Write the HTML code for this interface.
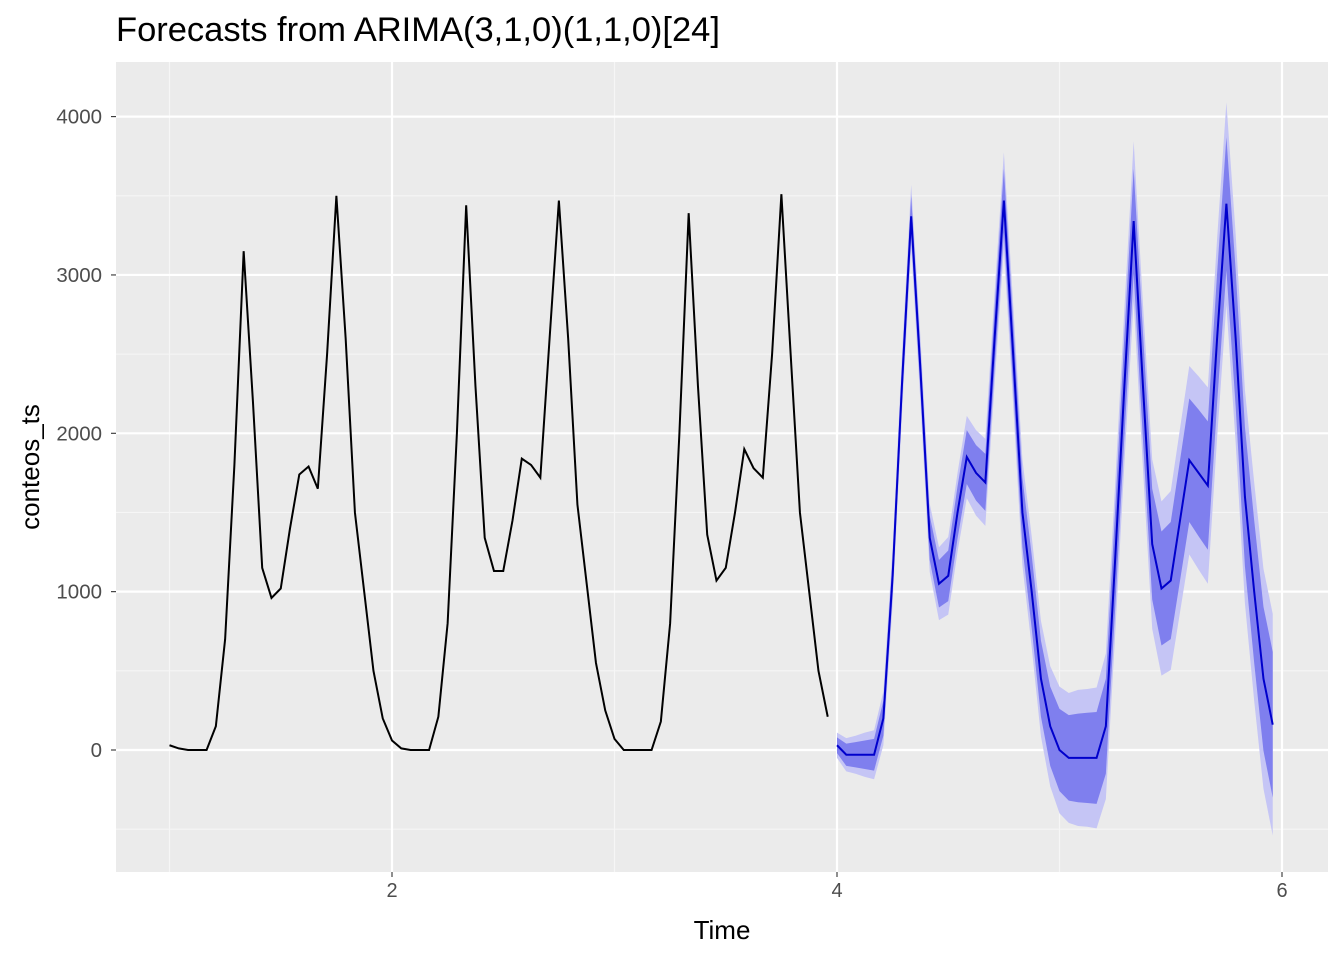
<!DOCTYPE html>
<html><head><meta charset="utf-8"><style>
html,body{margin:0;padding:0;background:#fff;}
svg{display:block;font-family:"Liberation Sans",Arial,sans-serif;}
</style></head><body>
<svg id="chart" width="1344" height="960" viewBox="0 0 1344 960" xmlns="http://www.w3.org/2000/svg">
<rect width="1344" height="960" fill="#ffffff"/>
<text x="116" y="41" font-size="34.5" fill="#000">Forecasts from ARIMA(3,1,0)(1,1,0)[24]</text>
<rect x="116" y="62" width="1212" height="810" fill="#ebebeb"/>
<g id="grid"></g>
<g id="marks"></g>
<g id="axes"></g>
<text x="722" y="939" font-size="26" text-anchor="middle" fill="#000">Time</text>
<text transform="translate(39,467) rotate(-90)" font-size="26" text-anchor="middle" fill="#000">conteos_ts</text>
</svg>
<script>
const freq = 24;
const startTime = 1;
const history = [30,10,0,0,0,150,700,1800,3150,2200,1150,960,1020,1400,1740,1790,1650,2500,3500,2600,1500,1000,500,200,
 60,10,0,0,0,210,800,2000,3440,2300,1340,1130,1130,1450,1840,1800,1720,2600,3470,2600,1550,1050,550,250,
 70,0,0,0,0,180,800,2000,3390,2300,1360,1070,1150,1500,1900,1780,1720,2500,3510,2500,1500,1000,500,210];
const forecastMean = [30,-30,-30,-30,-30,200,1100,2300,3370,2400,1340,1050,1100,1500,1850,1750,1690,2600,3470,2500,1500,1000,450,150,
 0,-50,-50,-50,-50,150,1200,2300,3340,2300,1300,1020,1070,1450,1830,1750,1670,2600,3450,2600,1600,1000,450,160];
const width80 = [50,70,80,90,100,110,120,125,130,135,140,150,160,165,170,175,180,190,200,210,220,230,240,250,260,270,280,285,290,300,310,320,330,340,350,360,370,380,390,400,405,410,420,430,440,450,455,460];
const width95 = [80,105,120,140,155,170,180,190,200,205,215,230,245,250,260,270,275,290,305,320,335,350,365,380,400,410,430,435,445,460,475,490,505,520,535,550,565,580,595,610,620,630,640,660,675,690,695,700];
const xTicks = [2,4,6];
const xMinor = [1,3,5];
const yTicks = [0,1000,2000,3000,4000];
const yMinor = [-500,500,1500,2500,3500];

const NS = "http://www.w3.org/2000/svg";
const X = t => 392 + (t - 2) * 222.5;
const Y = v => 750 - v * 0.15835;
const PL = 116, PR = 1328, PT = 62, PB = 872;
function mk(tag, attrs, parent) {
  const e = document.createElementNS(NS, tag);
  for (const k in attrs) e.setAttribute(k, attrs[k]);
  parent.appendChild(e);
  return e;
}
const grid = document.getElementById('grid');
const marks = document.getElementById('marks');
const axes = document.getElementById('axes');

yMinor.forEach(v => {
  const l = mk('line', {x1: PL, x2: PR, y1: Y(v), y2: Y(v), stroke: '#f6f6f6', 'stroke-width': 1.1}, grid);
  
  
});
xMinor.forEach(t => {
  const l = mk('line', {x1: X(t), x2: X(t), y1: PT, y2: PB, stroke: '#f6f6f6', 'stroke-width': 1.1}, grid);
  
  
});
yTicks.forEach(v => {
  const l = mk('line', {x1: PL, x2: PR, y1: Y(v), y2: Y(v), stroke: '#ffffff', 'stroke-width': 2.2}, grid);
  
  
  const tk = mk('line', {x1: PL - 5, x2: PL, y1: Y(v), y2: Y(v), stroke: '#333', 'stroke-width': 1.1}, axes);
  
  
  const tx = mk('text', {x: PL - 14, y: Y(v) + 7, 'font-size': 20.5, 'text-anchor': 'end', fill: '#4d4d4d'}, axes);
  tx.textContent = v;
  
  
});
xTicks.forEach(t => {
  const l = mk('line', {x1: X(t), x2: X(t), y1: PT, y2: PB, stroke: '#ffffff', 'stroke-width': 2.2}, grid);
  
  
  const tk = mk('line', {x1: X(t), x2: X(t), y1: PB, y2: PB + 5, stroke: '#333', 'stroke-width': 1.1}, axes);
  
  
  const tx = mk('text', {x: X(t), y: PB + 25, 'font-size': 20, 'text-anchor': 'middle', fill: '#4d4d4d'}, axes);
  tx.textContent = t;
  
  
});

const fStart = startTime + history.length / freq;
function band(w) {
  const up = forecastMean.map((m, i) => X(fStart + i / freq).toFixed(2) + ',' + Y(m + w[i]).toFixed(2));
  const dn = forecastMean.map((m, i) => X(fStart + i / freq).toFixed(2) + ',' + Y(m - w[i]).toFixed(2)).reverse();
  return up.concat(dn).join(' ');
}
const b95 = mk('polygon', {points: band(width95), fill: '#c5c5f5'}, marks);


const b80 = mk('polygon', {points: band(width80), fill: '#7f7fee'}, marks);



const hp = history.map((v, i) => X(startTime + i / freq).toFixed(2) + ',' + Y(v).toFixed(2)).join(' ');
const hl = mk('polyline', {points: hp, fill: 'none', stroke: '#000', 'stroke-width': 2}, marks);


const fp = forecastMean.map((v, i) => X(fStart + i / freq).toFixed(2) + ',' + Y(v).toFixed(2)).join(' ');
const fl = mk('polyline', {points: fp, fill: 'none', stroke: '#0000cc', 'stroke-width': 2}, marks);


</script>
</body></html>
